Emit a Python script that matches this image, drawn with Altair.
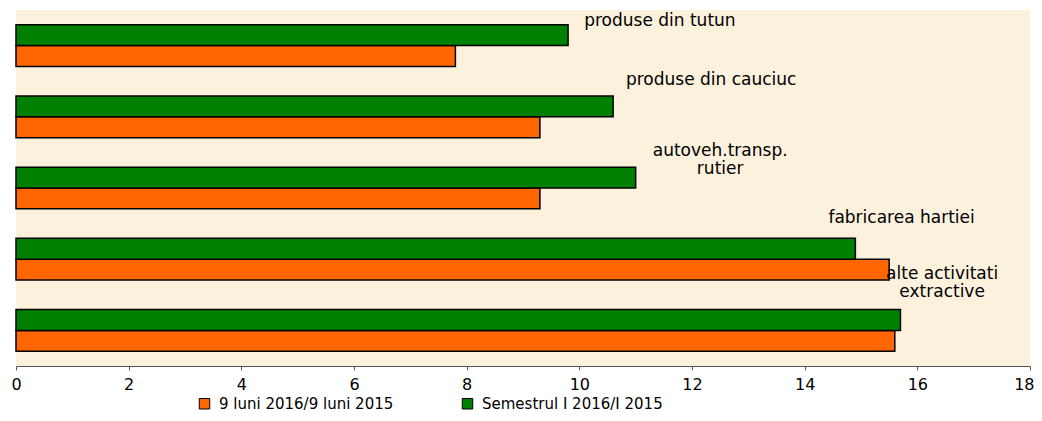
import altair as alt
import pandas as pd

categories = ["produse din tutun", "produse din cauciuc", "autoveh.transp. rutier",
              "fabricarea hartiei", "alte activitati extractive"]
label_text = ["produse din tutun", "produse din cauciuc", "autoveh.transp.\nrutier",
              "fabricarea hartiei", "alte activitati\nextractive"]
series = ["9 luni 2016/9 luni 2015", "Semestrul I 2016/I 2015"]
values_9luni = [7.8, 9.3, 9.3, 15.5, 15.6]
values_sem = [9.8, 10.6, 11.0, 14.9, 15.7]
x_ticks = [0, 2, 4, 6, 8, 10, 12, 14, 16, 18]

# annotation anchors (in data units) and vertical nudges for the category labels
label_pos = [11.43, 12.34, 12.5, 15.72, 16.44]
label_dy = [-20, -32, -32, -36, -51]

rows = []
for c, a, b in zip(categories, values_9luni, values_sem):
    rows.append({"cat": c, "serie": series[0], "val": a})
    rows.append({"cat": c, "serie": series[1], "val": b})
bars_df = pd.DataFrame(rows)
labels_df = pd.DataFrame({"cat": categories, "txt": label_text, "pos": label_pos})

xscale = alt.Scale(domain=[0, 18], nice=False, zero=True)
yscale = alt.Scale(paddingInner=0.415, paddingOuter=0.2075)

bars = alt.Chart(bars_df).mark_bar(stroke="black", strokeWidth=1.5).encode(
    x=alt.X("val:Q", scale=xscale,
            axis=alt.Axis(values=x_ticks, title=None, grid=False, domainColor="#555555",
                          tickColor="#555555", tickSize=4, labelFontSize=16,
                          labelFont="DejaVu Sans", labelColor="black", labelPadding=6,
                          format="d",
                          labelAlign={"condition": {"test": "datum.value == 18", "value": "right"},
                                      "value": "center"},
                          labelOffset={"condition": {"test": "datum.value == 18", "value": 4},
                                       "value": 0})),
    y=alt.Y("cat:N", sort=categories, scale=yscale, axis=None),
    yOffset=alt.YOffset("serie:N", sort=[series[1], series[0]],
                        scale=alt.Scale(paddingInner=0, paddingOuter=0)),
    color=alt.Color("serie:N",
                    scale=alt.Scale(domain=series, range=["#FF6600", "#008000"]),
                    legend=alt.Legend(title=None, orient="none", direction="horizontal",
                                      legendX=181, legendY=386, symbolType="square",
                                      symbolSize=110, symbolStrokeColor="black",
                                      symbolStrokeWidth=1, labelFontSize=15,
                                      labelFont="DejaVu Sans", labelColor="black",
                                      labelLimit=400, columnPadding=66, labelOffset=7)),
)

layers = [bars]
for i, c in enumerate(categories):
    t = alt.Chart(labels_df).transform_filter(alt.datum.cat == c).mark_text(
        align="center", baseline="alphabetic", dy=label_dy[i], lineBreak="\n",
        lineHeight=18, font="DejaVu Sans", fontSize=17, color="black"
    ).encode(
        x=alt.X("pos:Q", scale=xscale),
        y=alt.Y("cat:N", sort=categories, scale=yscale, axis=None),
        text="txt:N",
    )
    layers.append(t)

chart = alt.layer(*layers).properties(
    width=1014, height=356,
    autosize=alt.AutoSizeParams(type="none"),
    padding={"left": 8, "top": 2, "right": 4, "bottom": 47},
    background="white",
).configure_view(strokeWidth=0, fill="#FBF1DD")

chart.save("out.html", embed_options={"renderer": "svg", "actions": False})
